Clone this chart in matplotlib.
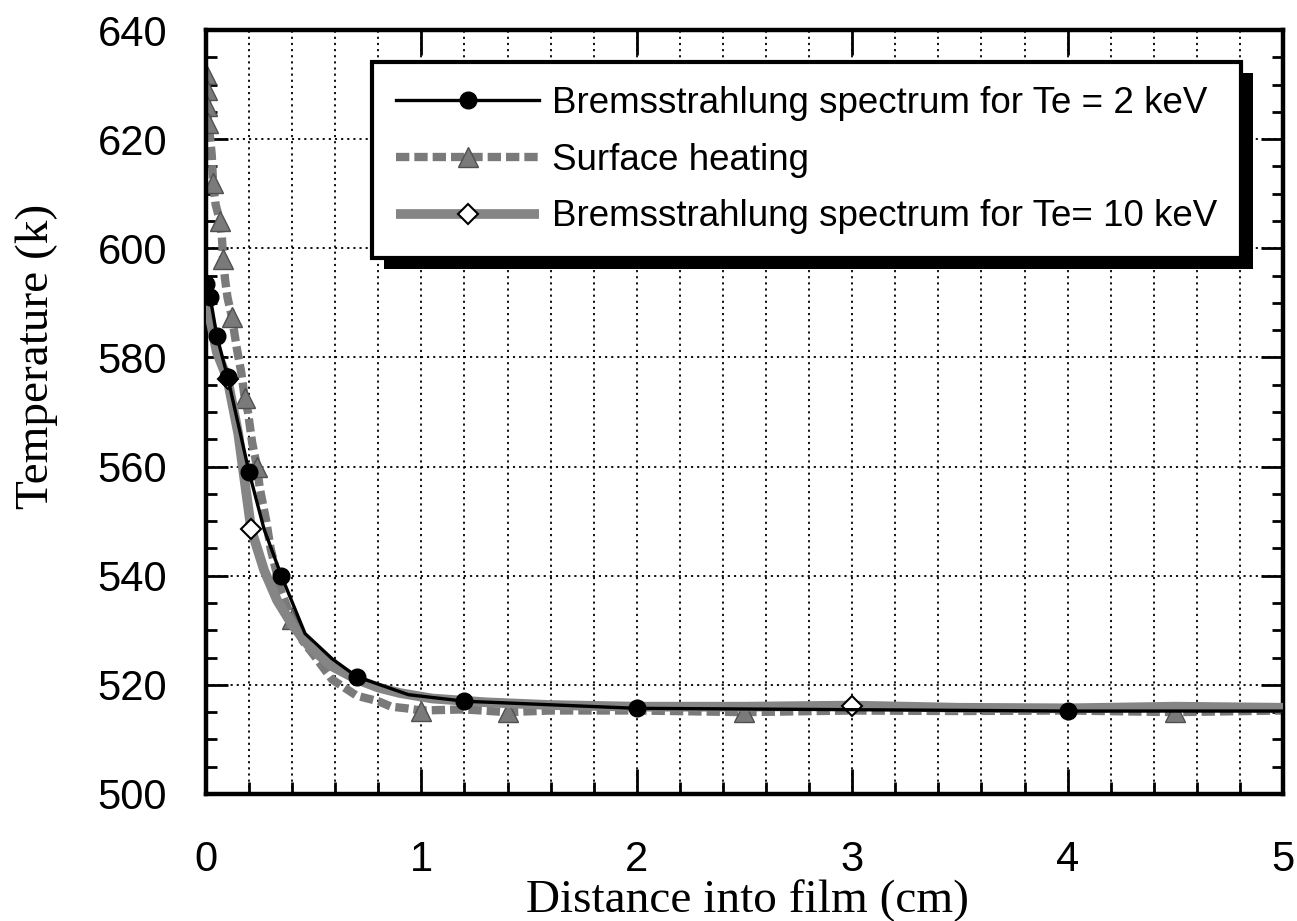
import numpy as np
import matplotlib.pyplot as plt
from matplotlib.patches import Rectangle
from matplotlib.ticker import MultipleLocator
from matplotlib.transforms import IdentityTransform

# Bremsstrahlung spectrum, Te = 2 keV (black line, filled circles)
x_te2 = [0, 0.02, 0.05, 0.1, 0.2, 0.27, 0.35, 0.46, 0.585, 0.7, 0.94, 1.2, 2.0, 4.0, 5.0]
t_te2 = [593.5, 591, 584, 576.5, 559, 548.5, 540, 529.4, 524.8, 521.5, 518.2, 517, 515.7, 515.2, 515.2]
te2_marks = [0, 1, 2, 3, 4, 6, 9, 11, 12, 13]

# Surface heating (grey dashed, triangles)
x_surf = [0, 0.003, 0.006, 0.01, 0.02, 0.027, 0.033, 0.045, 0.065, 0.074,
          0.08, 0.088, 0.1, 0.12, 0.144, 0.165, 0.18, 0.195, 0.214, 0.237,
          0.25, 0.28, 0.3, 0.35, 0.4, 0.45, 0.5, 0.585, 0.7, 0.8,
          0.86, 0.93, 1.0, 1.2, 1.4, 1.6, 2.0, 2.5, 3.0, 3.5,
          4.0, 4.5, 5.0]
t_surf = [632, 629, 626, 623, 620, 617, 612, 608, 605, 602,
          598, 594.5, 591, 587.5, 581.5, 577, 572.5, 570, 564.5, 560,
          556, 550, 545, 537, 532, 528, 525.5, 521, 518, 517,
          516, 515.7, 515.3, 515.5, 515, 515.3, 515.3, 515, 515.3, 515.2,
          515.3, 515, 515.3]
surf_marks = [0, 1, 2, 3, 6, 8, 10, 13, 16, 19, 24, 32, 34, 37, 41]

# Bremsstrahlung spectrum, Te = 10 keV (grey solid, open diamonds)
x_te10 = [0, 0.02, 0.05, 0.1, 0.15, 0.21, 0.27, 0.33, 0.4, 0.48,
          0.58, 0.7, 0.8, 0.9, 1.05, 1.3, 1.6, 2.0, 2.5, 3.0,
          3.5, 4.0, 4.5, 5.0]
t_te10 = [590, 587, 581, 576, 566, 548.5, 541, 535.5, 531, 527,
          523.5, 521, 519.5, 518.5, 517.5, 516.8, 516.3, 516, 516, 516.2,
          515.8, 515.7, 516, 515.8]
te10_marks = [3, 5, 19]

labels = ['Bremsstrahlung spectrum for Te = 2 keV',
          'Surface heating',
          'Bremsstrahlung spectrum for Te= 10 keV']

plt.rcParams['font.family'] = ['Liberation Sans', 'DejaVu Sans']
serif = ['Liberation Serif', 'DejaVu Serif']

fig = plt.figure(figsize=(12.97, 9.21), dpi=100)
ax = fig.add_axes([0.1588, 0.1379, 0.8304, 0.8295])

l_surf, = ax.plot(x_surf, t_surf, color='#7a7a7a', lw=6, dashes=(1.6, 0.6),
                  marker='^', ms=14, mfc='#7a7a7a', mec='#505050', mew=1,
                  markevery=surf_marks, zorder=2.5)
l_te10, = ax.plot(x_te10, t_te10, color='#858585', lw=7, solid_capstyle='butt',
                  marker='D', ms=10, mfc='white', mec='black', mew=1.5,
                  markevery=te10_marks, zorder=3)
l_te2, = ax.plot(x_te2, t_te2, color='black', lw=2.4, marker='o', ms=12,
                 markevery=te2_marks, zorder=4)

ax.set_xlim(0, 5)
ax.set_ylim(500, 640)
ax.xaxis.set_major_locator(MultipleLocator(1))
ax.xaxis.set_minor_locator(MultipleLocator(0.2))
ax.yaxis.set_major_locator(MultipleLocator(20))
ax.yaxis.set_minor_locator(MultipleLocator(5))

ax.grid(which='both', axis='x', color='black', lw=1.3, linestyle=(0, (1.2, 2.2)))
ax.grid(which='major', axis='y', color='black', lw=1.3, linestyle=(0, (1.2, 2.2)))

ax.tick_params(which='both', direction='in', top=True, right=True, width=2)
ax.tick_params(axis='x', which='major', length=18, labelsize=30, pad=33)
ax.tick_params(axis='x', which='minor', length=9, top=False)
ax.tick_params(axis='y', which='major', length=16, labelsize=30, pad=28)
ax.tick_params(axis='y', which='minor', length=8)
for s in ax.spines.values():
    s.set_linewidth(3.2)

ax.set_xlabel('Distance into film (cm)', family=serif, fontsize=34)
ax.xaxis.set_label_coords(0.503, -0.154)
ax.xaxis.label.set_va('baseline')
ax.set_ylabel('Temperature (k)', family=serif, fontsize=34)
ax.yaxis.set_label_coords(-0.157, 0.573)
ax.yaxis.label.set_va('center')

leg = ax.legend([l_te2, l_surf, l_te10], labels, loc='upper left',
                bbox_to_anchor=(0.154, 0.958), fontsize=26.5, fancybox=False,
                edgecolor='black', framealpha=1, borderpad=0.65,
                handlelength=3.9, handletextpad=0.35, labelspacing=0.59,
                borderaxespad=0)
leg.get_frame().set_linewidth(3)
leg.set_zorder(6)

# drop shadow under the legend box
fig.canvas.draw()
bb = leg.get_window_extent()
ax.add_patch(Rectangle((bb.x0 + 12, bb.y0 - 11), bb.width, bb.height,
                       transform=IdentityTransform(), facecolor='black',
                       edgecolor='none', clip_on=False, zorder=5.9))

fig.savefig('out.png', dpi=100)
